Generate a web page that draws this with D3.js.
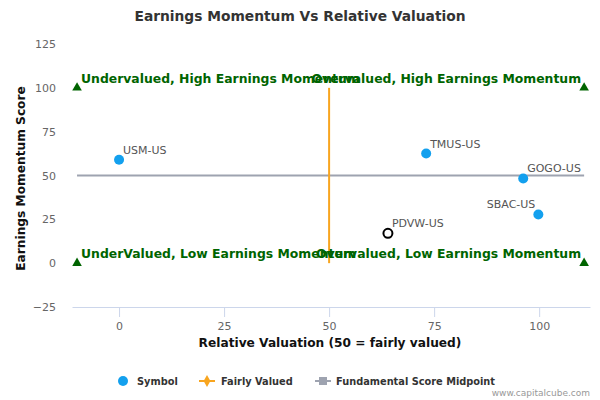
<!DOCTYPE html>
<html>
<head>
<meta charset="utf-8">
<script src="https://cdn.jsdelivr.net/npm/d3@7"></script>
<style>
  body { margin: 0; background: #fff; }
  text { font-family: "DejaVu Sans", sans-serif; }
</style>
</head>
<body>
<script>
const WIDTH = 600
const HEIGHT = 400

// data
const symbols = ["USM-US", "TMUS-US", "GOGO-US", "SBAC-US"]
const valuation = [0, 73.1, 96.2, 99.8]
const momentum = [59, 62.5, 48.3, 27.8]
const highlight = { name: "PDVW-US", valuation: 64, momentum: 17 }

const quadrantLabels = [
    "Undervalued, High Earnings Momentum",
    "Overvalued, High Earnings Momentum",
    "UnderValued, Low Earnings Momentum",
    "Overvalued, Low Earnings Momentum"
]
const cornerX = [-10, 110.7, -10, 110.7]
const cornerY = [100, 100, 0, 0]

const fairLine = [[50, 0], [50, 100]]
const midLine = [[-10, 50], [110.7, 50]]

const xTicks = [0, 25, 50, 75, 100]
const yTicks = [-25, 0, 25, 50, 75, 100, 125]

const svg = d3
    .select("body")
    .append("svg")
    .attr("width", WIDTH)
    .attr("height", HEIGHT)

const x = d3.scaleLinear().domain([-11.2, 112.1]).range([72, 590])
const y = d3.scaleLinear().domain([-25, 125]).range([307, 44])

svg.append("text")
    .attr("x", 300)
    .attr("y", 21)
    .attr("text-anchor", "middle")
    .attr("font-size", 13.8)
    .attr("font-weight", "bold")
    .attr("fill", "#333")
    .text("Earnings Momentum Vs Relative Valuation")

// x axis
const xAxis = svg.append("g")
    .attr("transform", `translate(0,${y(-25)})`)
    .call(d3.axisBottom(x).tickValues(xTicks).tickSize(10).tickSizeOuter(0))
xAxis.select(".domain").attr("stroke", "#ccd6eb")
xAxis.selectAll(".tick line").attr("stroke", "#ccd6eb")
xAxis.selectAll(".tick text")
    .attr("fill", "#666")
    .attr("font-size", 11)
    .attr("font-family", "DejaVu Sans, sans-serif")
    .attr("dy", "0.9em")

// y axis
const yAxis = svg.append("g")
    .attr("transform", `translate(${x(-11.2)},0)`)
    .call(d3.axisLeft(y).tickValues(yTicks).tickSize(0))
yAxis.select(".domain").remove()
yAxis.selectAll(".tick text")
    .attr("fill", "#666")
    .attr("font-size", 11)
    .attr("font-family", "DejaVu Sans, sans-serif")
    .attr("x", -16)

svg.append("text")
    .attr("x", 330)
    .attr("y", 347)
    .attr("text-anchor", "middle")
    .attr("font-size", 12.2)
    .attr("font-weight", "bold")
    .attr("fill", "#111")
    .text("Relative Valuation (50 = fairly valued)")

svg.append("text")
    .attr("transform", `translate(25,${y(50) + 3}) rotate(-90)`)
    .attr("text-anchor", "middle")
    .attr("font-size", 12.2)
    .attr("font-weight", "bold")
    .attr("fill", "#111")
    .text("Earnings Momentum Score")

const line = d3.line().x(d => x(d[0])).y(d => y(d[1]))

svg.append("path")
    .attr("d", line(midLine))
    .attr("stroke", "#9ea3b0")
    .attr("stroke-width", 2)
    .attr("fill", "none")

svg.append("path")
    .attr("d", line(fairLine))
    .attr("stroke", "#f8a51f")
    .attr("stroke-width", 2)
    .attr("fill", "none")

// quadrant corners
const tri = d3.symbol().type(d3.symbolTriangle).size(40)
svg.selectAll(".corner")
    .data(cornerX)
    .enter()
    .append("path")
    .attr("class", "corner")
    .attr("d", tri)
    .attr("transform", (d, i) => `translate(${x(d)},${y(cornerY[i])})`)
    .attr("fill", "#006400")

svg.selectAll(".quad")
    .data(quadrantLabels)
    .enter()
    .append("text")
    .attr("class", "quad")
    .attr("x", (d, i) => x(cornerX[i]) + (i % 2 === 0 ? 4 : -3))
    .attr("y", (d, i) => y(cornerY[i]) - 5)
    .attr("text-anchor", (d, i) => i % 2 === 0 ? "start" : "end")
    .attr("font-size", 12.4)
    .attr("font-weight", "bold")
    .attr("fill", "#006400")
    .text(d => d)

// points
svg.selectAll(".pt")
    .data(symbols)
    .enter()
    .append("circle")
    .attr("class", "pt")
    .attr("cx", (d, i) => x(valuation[i]))
    .attr("cy", (d, i) => y(momentum[i]))
    .attr("r", 5)
    .attr("fill", "#13a0ee")

svg.selectAll(".ptlabel")
    .data(symbols)
    .enter()
    .append("text")
    .attr("class", "ptlabel")
    .attr("x", (d, i) => x(valuation[i]) + (d === "SBAC-US" ? -3 : 4))
    .attr("y", (d, i) => y(momentum[i]) - 6)
    .attr("text-anchor", d => d === "SBAC-US" ? "end" : "start")
    .attr("font-size", 11)
    .attr("fill", "#555")
    .text(d => d)

svg.append("circle")
    .attr("cx", x(highlight.valuation))
    .attr("cy", y(highlight.momentum))
    .attr("r", 4.5)
    .attr("fill", "#fff")
    .attr("stroke", "#000")
    .attr("stroke-width", 2)

svg.append("text")
    .attr("x", x(highlight.valuation) + 4)
    .attr("y", y(highlight.momentum) - 6)
    .attr("font-size", 11)
    .attr("fill", "#555")
    .text(highlight.name)

// legend
const legend = svg.append("g").attr("transform", "translate(0,381)")
legend.append("circle").attr("cx", 123).attr("cy", 0).attr("r", 5).attr("fill", "#13a0ee")
legend.append("text").attr("x", 137).attr("y", 4).text("Symbol")

legend.append("line").attr("x1", 199).attr("x2", 215).attr("y1", 0).attr("y2", 0)
    .attr("stroke", "#f8a51f").attr("stroke-width", 2)
legend.append("path").attr("d", d3.symbol().type(d3.symbolDiamond).size(40))
    .attr("transform", "translate(207,0)").attr("fill", "#f8a51f")
legend.append("text").attr("x", 221).attr("y", 4).text("Fairly Valued")

legend.append("line").attr("x1", 315).attr("x2", 331).attr("y1", 0).attr("y2", 0)
    .attr("stroke", "#9ea3b0").attr("stroke-width", 2)
legend.append("rect").attr("x", 319).attr("y", -4).attr("width", 8).attr("height", 8)
    .attr("fill", "#9ea3b0")
legend.append("text").attr("x", 336).attr("y", 4).text("Fundamental Score Midpoint")

legend.selectAll("text")
    .attr("font-size", 9.8)
    .attr("font-weight", "bold")
    .attr("fill", "#333")

svg.append("text")
    .attr("x", 590)
    .attr("y", 396)
    .attr("text-anchor", "end")
    .attr("font-size", 9)
    .attr("fill", "#999")
    .text("www.capitalcube.com")
</script>
</body>
</html>
